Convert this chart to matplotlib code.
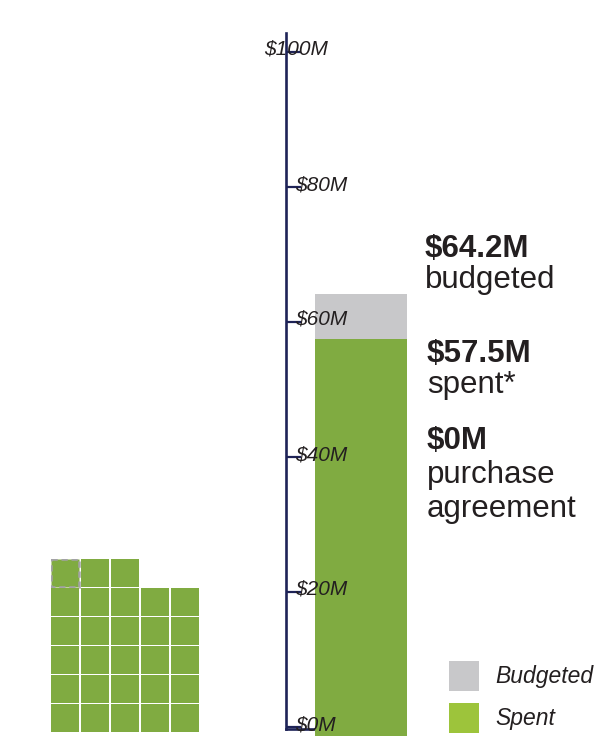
import matplotlib
matplotlib.use("Agg")
import matplotlib.pyplot as plt
from matplotlib.patches import Rectangle
from matplotlib import transforms

plt.rcParams['font.family'] = ['Liberation Sans', 'DejaVu Sans']

# ---- data ----
budgeted = 64.2
spent = 57.5
purchase_agreement = 0
tick_values = [0, 20, 40, 60, 80, 100]
tick_labels = ["$0M", "$20M", "$40M", "$60M", "$80M", "$100M"]
waffle_rows = [3, 5, 5, 5, 5, 5]   # squares per row, top to bottom
waffle_dashed = [(0, 0)]           # (row, col) of outlined square
legend_labels = ["Budgeted", "Spent"]

GREEN = "#80AB41"
LEG_GREEN = "#9DC43B"
GRAY = "#C8C8CA"
NAVY = "#1E2357"
TEXT = "#231F20"

W, H = 596, 736
fig = plt.figure(figsize=(W / 100, H / 100), dpi=100)

def fx(px):
    return px / W

def fy(py):
    return 1 - py / H

# ---- main bar axes ----
ax_left, ax_right = 286, 596
ax_top, ax_bottom = 33, 736
ax = fig.add_axes([fx(ax_left), fy(ax_bottom), fx(ax_right) - fx(ax_left),
                   fy(ax_top) - fy(ax_bottom)])
ppm = 6.75  # pixels per $M
y_lo = -(ax_bottom - 727) / ppm
y_hi = (727 - ax_top) / ppm
ax.set_xlim(0, 1)
ax.set_ylim(y_lo, y_hi)
ax.patch.set_alpha(0)

bar_x0 = (315 - ax_left) / (ax_right - ax_left)
bar_x1 = (407 - ax_left) / (ax_right - ax_left)
bar_c = (bar_x0 + bar_x1) / 2
bar_w = bar_x1 - bar_x0
ax.bar([bar_c], [budgeted - y_lo], bottom=y_lo, width=bar_w, color=GRAY, zorder=2)
ax.bar([bar_c], [spent - y_lo], bottom=y_lo, width=bar_w, color=GREEN, zorder=3)

for s in ["top", "right"]:
    ax.spines[s].set_visible(False)
ax.spines["left"].set_color(NAVY)
ax.spines["left"].set_linewidth(1.9)
ax.spines["left"].set_bounds(-0.3, y_hi)
ax.spines["bottom"].set_color(NAVY)
ax.spines["bottom"].set_linewidth(1.9)
ax.spines["bottom"].set_position(("data", -0.3))
ax.spines["bottom"].set_bounds(0, bar_x0)
ax.set_xticks([])
ax.set_yticks(tick_values)
ax.tick_params(axis="y", direction="in", length=10.5, width=1.6, color=NAVY,
               labelleft=False)

for v, lab in zip(tick_values, tick_labels):
    xoff = -22 if v == 100 else 9
    tr = transforms.offset_copy(ax.transData, fig=fig, x=xoff * 0.72, y=-3 * 0.72,
                                units="points")
    ax.text(0, v, lab, transform=tr, fontsize=15, style="italic", color=TEXT,
            ha="left", va="baseline", zorder=5)

# ---- annotations ----
ann = [
    (425, 257, f"${budgeted}M", "bold"),
    (425, 288, "budgeted", "normal"),
    (427, 362, f"${spent}M", "bold"),
    (427, 393, "spent*", "normal"),
    (427, 449, f"${purchase_agreement}M", "bold"),
    (427, 483, "purchase", "normal"),
    (427, 517, "agreement", "normal"),
]
for x, y, t, w in ann:
    fig.text(fx(x), fy(y), t, fontsize=22.5, fontweight=w, color=TEXT,
             ha="left", va="baseline")

# ---- waffle ----
wx0, wx1, wy0, wy1 = 51, 201, 559, 733
n_cols = max(waffle_rows)
n_rows = len(waffle_rows)
wax = fig.add_axes([fx(wx0), fy(wy1), fx(wx1) - fx(wx0), fy(wy0) - fy(wy1)])
wax.set_xlim(0, n_cols)
wax.set_ylim(n_rows, 0)
wax.axis("off")
for r, cnt in enumerate(waffle_rows):
    for c in range(cnt):
        dashed = (r, c) in waffle_dashed
        wax.add_patch(Rectangle((c, r), 28 / 30, 28 / 29, facecolor=GREEN,
                                edgecolor="#A3A2A6" if dashed else "none",
                                linestyle=(0, (2.5, 1.5)) if dashed else "solid",
                                linewidth=1.8))

# ---- legend ----
leg = [(661, GRAY, legend_labels[0]), (703, LEG_GREEN, legend_labels[1])]
for y, col, lab in leg:
    fig.add_artist(Rectangle((fx(449), fy(y + 30)), 30 / W, 30 / H,
                             transform=fig.transFigure, facecolor=col,
                             edgecolor="none"))
    fig.text(fx(495), fy(y + 15), lab, fontsize=16.5, style="italic", color=TEXT,
             ha="left", va="center")

fig.savefig("out.png", dpi=100)
